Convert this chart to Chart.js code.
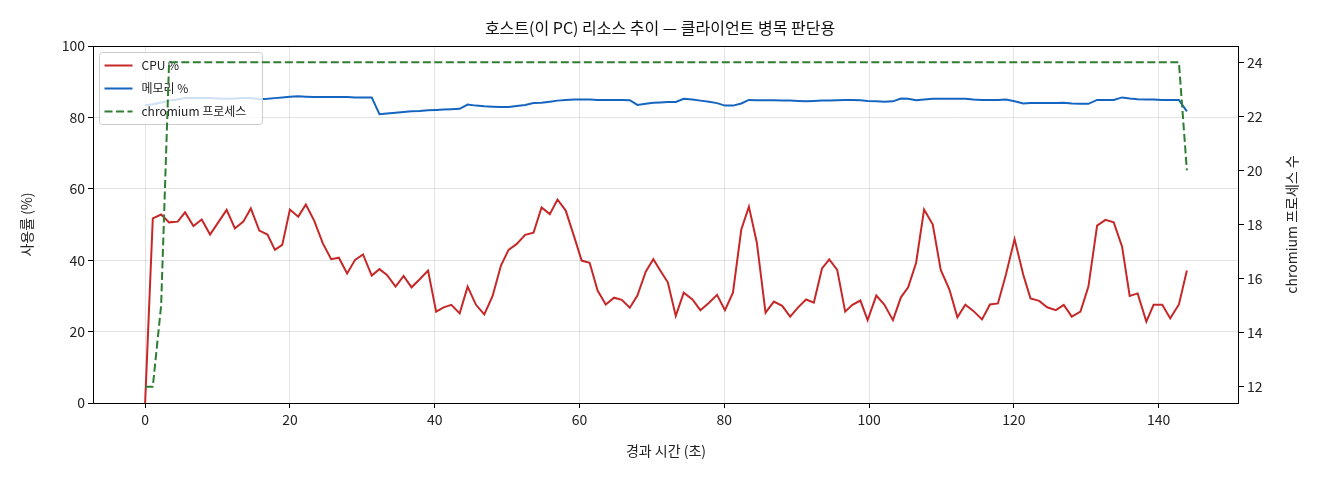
<!DOCTYPE html>
<html>
<head>
<meta charset="utf-8">
<script src="https://cdn.jsdelivr.net/npm/chart.js@4"></script>
<style>
  html, body { margin: 0; padding: 0; background: #fff; }
  #wrap { width: 1320px; height: 480px; }
</style>
</head>
<body>
<div id="wrap"><canvas id="hostChart" width="1320" height="480"></canvas></div>
<script>
// 경과 시간 (초) - 샘플 시각
const elapsed = [
  0, 1.06, 2.21, 3.31, 4.5, 5.52, 6.67, 7.82, 8.97, 10.1,
  11.26, 12.4, 13.56, 14.6, 15.77, 16.9, 17.93, 18.94, 20.0, 21.15,
  22.2, 23.35, 24.55, 25.7, 26.76, 27.9, 29.0, 30.1, 31.3, 32.37,
  33.4, 34.6, 35.7, 36.8, 37.9, 39.08, 40.2, 41.24, 42.3, 43.45,
  44.55, 45.7, 46.85, 48.0, 49.15, 50.2, 51.3, 52.5, 53.65, 54.76,
  55.9, 56.96, 58.1, 59.26, 60.3, 61.4, 62.5, 63.63, 64.78, 65.84,
  66.95, 68.0, 69.15, 70.2, 71.2, 72.2, 73.3, 74.4, 75.6, 76.7,
  77.9, 79.0, 80.09, 81.2, 82.35, 83.4, 84.5, 85.7, 86.85, 88.0,
  89.1, 90.2, 91.3, 92.37, 93.5, 94.5, 95.6, 96.7, 97.7, 98.8,
  99.8, 101.0, 102.1, 103.3, 104.4, 105.4, 106.5, 107.6, 108.8, 109.9,
  111.1, 112.2, 113.3, 114.4, 115.6, 116.7, 117.8, 118.9, 120.1, 121.3,
  122.3, 123.5, 124.6, 125.8, 126.9, 128.0, 129.2, 130.3, 131.5, 132.65,
  133.8, 134.95, 136.0, 137.1, 138.3, 139.3, 140.5, 141.6, 142.8, 143.9
];

const cpuPct = [
  0, 51.7, 52.8, 50.6, 50.8, 53.4, 49.6, 51.4, 47.2, 50.6,
  54.1, 48.9, 50.8, 54.5, 48.3, 47.2, 42.9, 44.3, 54.2, 52.2,
  55.6, 51.1, 44.7, 40.3, 40.7, 36.3, 40.1, 41.6, 35.7, 37.5,
  35.9, 32.6, 35.6, 32.4, 34.6, 37.1, 25.6, 26.8, 27.5, 25.1,
  32.6, 27.5, 24.8, 30.0, 38.5, 42.9, 44.5, 47.1, 47.7, 54.8,
  52.9, 57.0, 53.9, 46.6, 39.9, 39.3, 31.5, 27.6, 29.5, 28.9,
  26.7, 30.1, 36.8, 40.3, 37.0, 33.8, 24.4, 30.9, 29.0, 26.0,
  28.1, 30.3, 26.0, 30.9, 48.6, 55.0, 44.9, 25.3, 28.4, 27.2,
  24.2, 26.8, 29.0, 28.1, 37.7, 40.2, 37.3, 25.6, 27.5, 28.7,
  23.2, 30.1, 27.6, 23.2, 29.6, 32.4, 39.3, 54.2, 50.0, 37.3,
  31.8, 24.0, 27.5, 25.8, 23.4, 27.6, 27.9, 35.9, 45.9, 35.9,
  29.3, 28.6, 26.8, 26.0, 27.5, 24.2, 25.6, 32.6, 49.7, 51.3,
  50.6, 43.8, 30.0, 30.7, 22.8, 27.5, 27.5, 23.7, 27.6, 37.1
];

const memPct = [
  83.4, 83.7, 84.2, 84.7, 85.0, 85.4, 85.4, 85.4, 85.4, 85.3,
  85.2, 85.3, 85.4, 85.4, 85.1, 85.2, 85.4, 85.6, 85.8, 85.9,
  85.8, 85.7, 85.7, 85.7, 85.7, 85.7, 85.6, 85.6, 85.6, 80.9,
  81.1, 81.3, 81.5, 81.7, 81.8, 82.0, 82.1, 82.2, 82.3, 82.4,
  83.6, 83.3, 83.1, 83.0, 82.9, 82.9, 83.2, 83.5, 84.0, 84.1,
  84.4, 84.7, 84.9, 85.0, 85.0, 85.0, 84.9, 84.9, 84.9, 84.9,
  84.8, 83.5, 83.8, 84.1, 84.2, 84.3, 84.3, 85.2, 85.0, 84.7,
  84.4, 84.0, 83.3, 83.3, 83.9, 84.9, 84.8, 84.8, 84.8, 84.7,
  84.7, 84.6, 84.5, 84.6, 84.7, 84.7, 84.8, 84.9, 84.9, 84.8,
  84.6, 84.5, 84.4, 84.5, 85.3, 85.2, 84.8, 85.0, 85.2, 85.2,
  85.2, 85.2, 85.2, 85.0, 84.9, 84.9, 84.9, 85.0, 84.5, 83.9,
  84.0, 84.0, 84.0, 84.0, 84.1, 83.9, 83.8, 83.8, 84.9, 84.9,
  84.9, 85.6, 85.3, 85.1, 85.0, 85.0, 84.9, 84.9, 84.9, 81.7
];

const chromiumProcs = [
  12, 12, 15, 24, 24, 24, 24, 24, 24, 24,
  24, 24, 24, 24, 24, 24, 24, 24, 24, 24,
  24, 24, 24, 24, 24, 24, 24, 24, 24, 24,
  24, 24, 24, 24, 24, 24, 24, 24, 24, 24,
  24, 24, 24, 24, 24, 24, 24, 24, 24, 24,
  24, 24, 24, 24, 24, 24, 24, 24, 24, 24,
  24, 24, 24, 24, 24, 24, 24, 24, 24, 24,
  24, 24, 24, 24, 24, 24, 24, 24, 24, 24,
  24, 24, 24, 24, 24, 24, 24, 24, 24, 24,
  24, 24, 24, 24, 24, 24, 24, 24, 24, 24,
  24, 24, 24, 24, 24, 24, 24, 24, 24, 24,
  24, 24, 24, 24, 24, 24, 24, 24, 24, 24,
  24, 24, 24, 24, 24, 24, 24, 24, 24, 20
];

const xTicks = [0, 20, 40, 60, 80, 100, 120, 140];
const leftTicks = [0, 20, 40, 60, 80, 100];
const rightTicks = [12, 14, 16, 18, 20, 22, 24];

const FONT = "'Noto Sans CJK KR', 'Noto Sans', sans-serif";
const toPoints = vals => vals.map((v, i) => ({ x: elapsed[i], y: v }));
const fixTicks = list => scale => { scale.ticks = list.map(v => ({ value: v })); };

// 범례: ax1 위, chromium 선 아래에 그림 (matplotlib twinx 순서 흉내)
const boxLegend = {
  id: 'boxLegend',
  beforeDatasetDraw(chart, args) {
    if (args.index !== 2) return;
    const { ctx, chartArea } = chart;
    const x = chartArea.left + 6.5, y = chartArea.top + 6.5;
    const w = 163, h = 72, r = 3;
    ctx.save();
    ctx.beginPath();
    ctx.roundRect(x, y, w, h, r);
    ctx.fillStyle = 'rgba(255,255,255,0.8)';
    ctx.fill();
    ctx.strokeStyle = '#cccccc';
    ctx.lineWidth = 1;
    ctx.stroke();
    ctx.font = '12px ' + FONT;
    ctx.textBaseline = 'middle';
    chart.data.datasets.forEach((ds, i) => {
      const cy = y + 13 + i * 23;
      ctx.beginPath();
      ctx.setLineDash(ds.borderDash || []);
      ctx.strokeStyle = ds.borderColor;
      ctx.lineWidth = 2;
      ctx.moveTo(x + 5, cy);
      ctx.lineTo(x + 33, cy);
      ctx.stroke();
      ctx.setLineDash([]);
      ctx.fillStyle = '#222';
      ctx.fillText(ds.label, x + 42, cy);
    });
    ctx.restore();
  },
  afterDraw(chart) {
    const { ctx, chartArea } = chart;
    const l = Math.round(chartArea.left), t = Math.round(chartArea.top);
    const r = Math.round(chartArea.right), b = Math.round(chartArea.bottom);
    ctx.save();
    ctx.strokeStyle = '#000';
    ctx.lineWidth = 1;
    ctx.strokeRect(l + 0.5, t + 0.5, r - l - 1, b - t);
    // 오른쪽 축 제목 (아래에서 위로 읽힘)
    ctx.translate(1292, (chartArea.top + chartArea.bottom) / 2);
    ctx.rotate(-Math.PI / 2);
    ctx.font = '14px ' + FONT;
    ctx.fillStyle = '#222';
    ctx.textAlign = 'center';
    ctx.textBaseline = 'middle';
    ctx.fillText('chromium 프로세스 수', 0, 0);
    ctx.restore();
  }
};

const tickFont = { family: FONT, size: 14 };
const gridColor = 'rgba(176,176,176,0.35)';

new Chart(document.getElementById('hostChart'), {
  type: 'line',
  data: {
    datasets: [
      {
        label: 'CPU %',
        data: toPoints(cpuPct),
        borderColor: '#c62828',
        borderWidth: 2,
        pointRadius: 0,
        yAxisID: 'y',
        order: 2
      },
      {
        label: '메모리 %',
        data: toPoints(memPct),
        borderColor: '#1565c0',
        borderWidth: 2,
        pointRadius: 0,
        yAxisID: 'y',
        order: 1
      },
      {
        label: 'chromium 프로세스',
        data: toPoints(chromiumProcs),
        borderColor: '#2e7d32',
        borderWidth: 2,
        borderDash: [8, 3.5],
        pointRadius: 0,
        yAxisID: 'y2',
        order: 0
      }
    ]
  },
  options: {
    responsive: false,
    animation: false,
    devicePixelRatio: 1,
    layout: { padding: 0 },
    plugins: {
      legend: { display: false },
      tooltip: { enabled: false },
      title: {
        display: true,
        text: '호스트(이 PC) 리소스 추이 — 클라이언트 병목 판단용',
        color: '#111',
        font: { family: FONT, size: 16, weight: 'normal' },
        padding: { top: 18.4, bottom: 8.4 }
      }
    },
    scales: {
      x: {
        type: 'linear',
        min: -7.2,
        max: 151.1,
        afterBuildTicks: fixTicks(xTicks),
        afterFit: s => { s.height = 77; },
        ticks: { font: tickFont, color: '#222', padding: 3, maxRotation: 0 },
        grid: { color: gridColor, lineWidth: 1, tickLength: 5, tickColor: '#000' },
        border: { display: false },
        title: {
          display: true,
          text: '경과 시간 (초)',
          color: '#222',
          font: { family: FONT, size: 14 },
          padding: { top: 0, bottom: 20.6 }
        }
      },
      y: {
        position: 'left',
        min: 0,
        max: 100,
        afterBuildTicks: fixTicks(leftTicks),
        afterFit: s => { s.width = 93; },
        ticks: { font: tickFont, color: '#222', padding: 3 },
        grid: { color: gridColor, lineWidth: 1, tickLength: 5, tickColor: '#000' },
        border: { display: false },
        title: {
          display: true,
          text: '사용률 (%)',
          color: '#222',
          font: { family: FONT, size: 14 },
          padding: { top: 18.6, bottom: 0 }
        }
      },
      y2: {
        position: 'right',
        min: 11.4,
        max: 24.6,
        afterBuildTicks: fixTicks(rightTicks),
        afterFit: s => { s.width = 81; },
        ticks: { font: tickFont, color: '#222', padding: 3 },
        grid: { drawOnChartArea: false, tickLength: 5, tickColor: '#000' },
        border: { display: false }
      }
    }
  },
  plugins: [boxLegend]
});
</script>
</body>
</html>
